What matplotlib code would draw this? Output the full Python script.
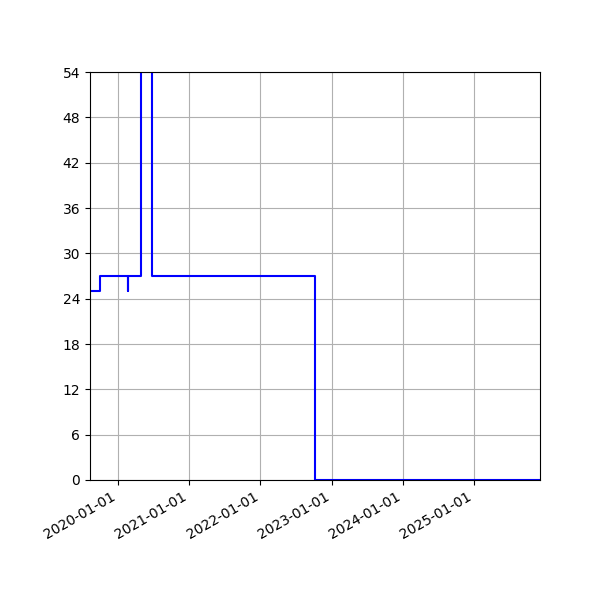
import matplotlib
matplotlib.use('Agg')
import matplotlib.pyplot as plt
import matplotlib.dates as mdates
import numpy as np
from datetime import datetime

# step points (value holds until next date)
dates = ['2019-08-11', '2019-10-01', '2020-02-22', '2020-02-24', '2020-04-26',
         '2020-06-23', '2022-10-06', '2025-12-04']
values = [25, 27, 25, 27, 60, 27, 0, 0]

x = [datetime.strptime(d, '%Y-%m-%d') for d in dates]

fig, ax = plt.subplots(figsize=(6, 6), dpi=100)
ax.step(x, values, where='post', color='blue')
ax.set_xlim(x[0], x[-1])
ax.set_ylim(0, 54)
ax.set_yticks(np.arange(0, 55, 6))
ax.xaxis.set_major_locator(mdates.YearLocator())
ax.xaxis.set_major_formatter(mdates.DateFormatter('%Y-%m-%d'))
ax.grid(True)
fig.autofmt_xdate()
fig.subplots_adjust(left=0.15, right=0.9, top=0.88, bottom=0.2)
fig.savefig('out.png')
